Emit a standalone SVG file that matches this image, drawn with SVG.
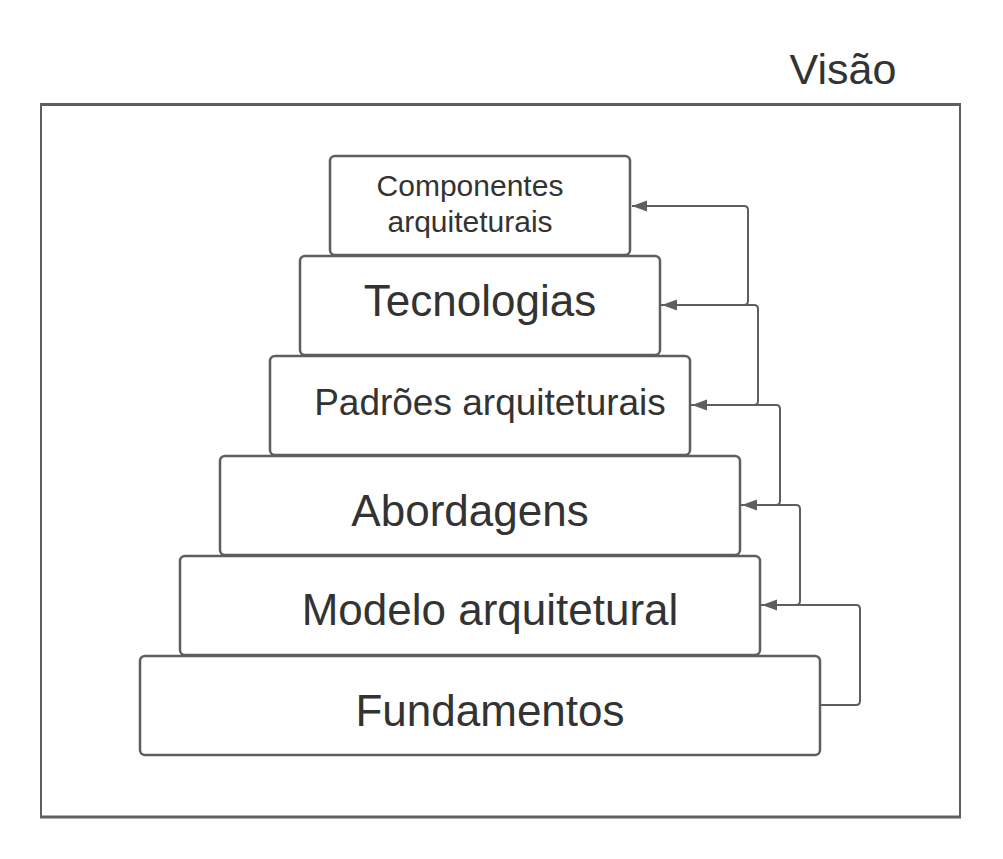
<svg xmlns="http://www.w3.org/2000/svg" width="1003" height="859" viewBox="0 0 1003 859">
<style>
.box{fill:#fff;stroke:#5e5e5e;stroke-width:2.5}
.t{font-family:"Liberation Sans",Arial,sans-serif;fill:#333;text-anchor:middle}
.c{fill:none;stroke:#5e5e5e;stroke-width:2;stroke-linejoin:round}
</style>
<defs>
<marker id="ah" markerWidth="16" markerHeight="12" refX="15" refY="6" orient="auto" markerUnits="userSpaceOnUse">
<path d="M0,0.5 L15,6 L0,11.5 Z" fill="#5e5e5e"/>
</marker>
</defs>
<rect width="1003" height="859" fill="#fff"/>
<g id="frame">
<line x1="41" y1="105" x2="41" y2="817" stroke="#5e5e5e" stroke-width="2"/>
<line x1="960" y1="105" x2="960" y2="817" stroke="#5e5e5e" stroke-width="2"/>
<line x1="40" y1="104.5" x2="961" y2="104.5" stroke="#5e5e5e" stroke-width="3"/>
<line x1="40" y1="817" x2="961" y2="817" stroke="#5e5e5e" stroke-width="3"/>
<text class="t" x="843" y="84" font-size="43">Visão</text>
</g>
<g id="fundamentos">
<rect class="box" x="140" y="656" width="680" height="99" rx="5"/>
<text class="t" x="490" y="726" font-size="44">Fundamentos</text>
</g>
<g id="modelo">
<rect class="box" x="180" y="556" width="580" height="99" rx="5"/>
<text class="t" x="490" y="625" font-size="44">Modelo arquitetural</text>
</g>
<g id="abordagens">
<rect class="box" x="220" y="456" width="520" height="99" rx="5"/>
<text class="t" x="470" y="526" font-size="44">Abordagens</text>
</g>
<g id="padroes">
<rect class="box" x="270" y="356" width="420" height="99" rx="5"/>
<text class="t" x="490" y="415" font-size="37">Padrões arquiteturais</text>
</g>
<g id="tecnologias">
<rect class="box" x="300" y="256" width="360" height="99" rx="5"/>
<text class="t" x="480" y="316" font-size="44">Tecnologias</text>
</g>
<g id="componentes">
<rect class="box" x="330" y="156" width="300" height="99" rx="5"/>
<text class="t" x="470" y="196" font-size="30">Componentes</text>
<text class="t" x="470" y="232" font-size="30">arquiteturais</text>
</g>
<g id="connectors">
<path class="c" d="M660,305 H744 Q748,305 748,301 V210 Q748,206 744,206 H632" marker-end="url(#ah)"/>
<path class="c" d="M690,405 H754 Q758,405 758,401 V309 Q758,305 754,305 H662" marker-end="url(#ah)"/>
<path class="c" d="M740,505 H776 Q780,505 780,501 V409 Q780,405 776,405 H692" marker-end="url(#ah)"/>
<path class="c" d="M760,605 H796 Q800,605 800,601 V509 Q800,505 796,505 H742" marker-end="url(#ah)"/>
<path class="c" d="M820,705 H856 Q860,705 860,701 V609 Q860,605 856,605 H762" marker-end="url(#ah)"/>
</g>
</svg>
